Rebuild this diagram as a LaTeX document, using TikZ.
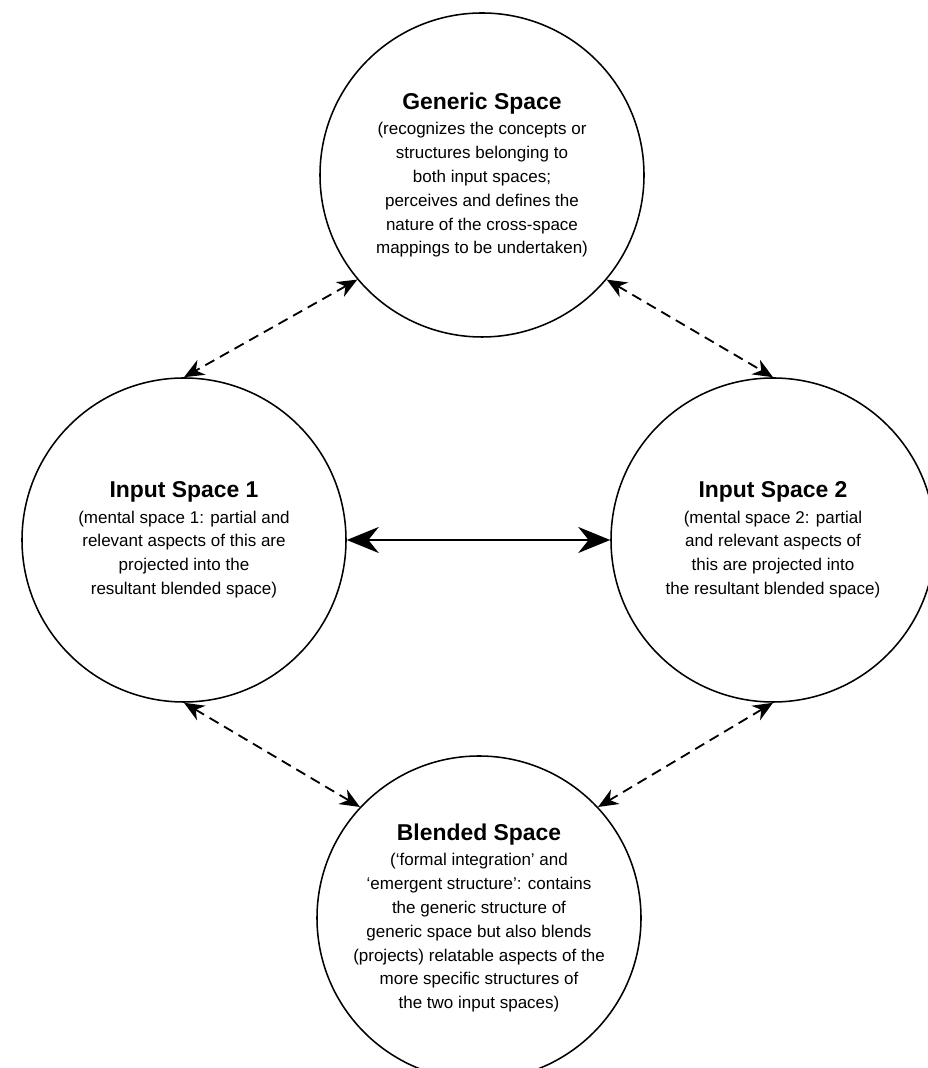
\documentclass[tikz,border=0pt]{standalone}
\usepackage{amsmath,amssymb}
\usepackage{fontspec}
\setmainfont{Liberation Sans}
\usepackage{tikz}
\usetikzlibrary{arrows.meta}

\begin{document}
\begin{tikzpicture}[every node/.style={draw, circle, minimum size=8.1cm, inner sep=0pt, line width=1.1pt, align=center, font=\fontsize{12.1}{17}\selectfont},
        head/.tip={Stealth[length=5mm, width=4.2mm, inset=1.6mm]},
        bighead/.tip={Stealth[length=8mm, width=6.5mm, inset=2.6mm]},
        link/.style={head-head, line width=1.3pt, dash pattern=on 2.6mm off 1.6mm},
        mainlink/.style={bighead-bighead, line width=2pt},scale=1]
            \useasboundingbox (0,0) rectangle (23.175,26.7);

            \node (G) at (12.05,22.325) {{\fontsize{16.3}{17}\selectfont\bfseries Generic Space}\\[1pt]
                (recognizes the concepts or\\ structures belonging to\\ both input spaces;\\
                perceives and defines the\\ nature of the cross-space\\ mappings to be undertaken)};

            \node (S1) at (4.6,13.2) {{\fontsize{16.3}{17}\selectfont\bfseries Input Space 1}\\[1pt]
                (mental space 1: partial and\\ relevant aspects of this are\\ projected into the\\ resultant blended space)};

            \node (S2) at (19.325,13.2) {{\fontsize{16.3}{17}\selectfont\bfseries Input Space 2}\\[1pt]
                (mental space 2: partial\\ and relevant aspects of\\ this are projected into\\ the resultant blended space)};

            \node (B) at (11.975,3.75) {{\fontsize{16.3}{17}\selectfont\bfseries Blended Space}\\[1pt]
                (‘formal integration’ and\\ ‘emergent structure’: contains\\ the generic structure of\\
                generic space but also blends\\ (projects) relatable aspects of the\\
                more specific structures of\\ the two input spaces)};

            \draw[mainlink] (S1.east) -- (S2.west);

            \draw[link] (G.220) -- (S1.north);
            \draw[link] (G.320) -- (S2.north);
            \draw[link] (S1.south) -- (B.137);
            \draw[link] (S2.south) -- (B.43);
        \end{tikzpicture}
\end{document}
